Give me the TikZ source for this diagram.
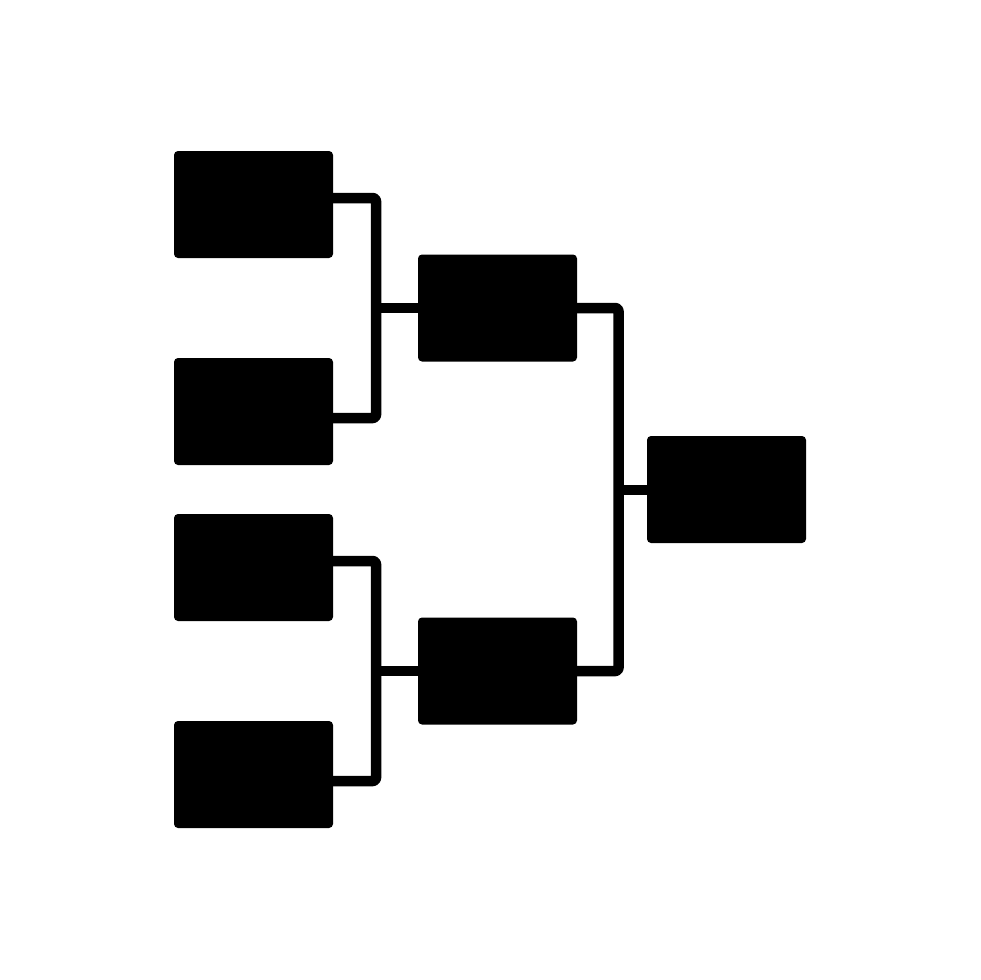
\documentclass[tikz,border=0pt]{standalone}
\begin{document}
\begin{tikzpicture}[x=1pt,y=-1pt,
  boxnode/.style={fill=black,draw=none,rounded corners=4pt,minimum width=159pt,minimum height=107pt,inner sep=0pt,outer sep=0pt},
  wire/.style={line width=10.5pt,line join=round,rounded corners=3pt}]
\useasboundingbox (0,0) rectangle (980,980);
\node[boxnode] (a1) at (253.5,204.5) {};
\node[boxnode] (a2) at (253.5,411.5) {};
\node[boxnode] (a3) at (253.5,567.5) {};
\node[boxnode] (a4) at (253.5,774.5) {};
\node[boxnode] (b1) at (497.5,308) {};
\node[boxnode] (b2) at (497.5,671) {};
\node[boxnode] (c1) at (726.5,489.5) {};
\coordinate (v1) at (376,0);
\coordinate (v2) at (618.5,0);
\draw[wire] ([xshift=-2pt]a1.east |- 0,198) -- (v1 |- 0,198) -- (v1 |- 0,418) -- ([xshift=-2pt]a2.east |- 0,418);
\draw[wire] (v1 |- 0,308) -- ([xshift=2pt]b1.west);
\draw[wire] ([xshift=-2pt]a3.east |- 0,561) -- (v1 |- 0,561) -- (v1 |- 0,781) -- ([xshift=-2pt]a4.east |- 0,781);
\draw[wire] (v1 |- 0,671) -- ([xshift=2pt]b2.west);
\draw[wire] ([xshift=-2pt]b1.east) -- (v2 |- 0,308) -- (v2 |- 0,671) -- ([xshift=-2pt]b2.east);
\draw[wire] (v2 |- 0,490) -- ([xshift=2pt]c1.west |- 0,490);
\end{tikzpicture}
\end{document}
